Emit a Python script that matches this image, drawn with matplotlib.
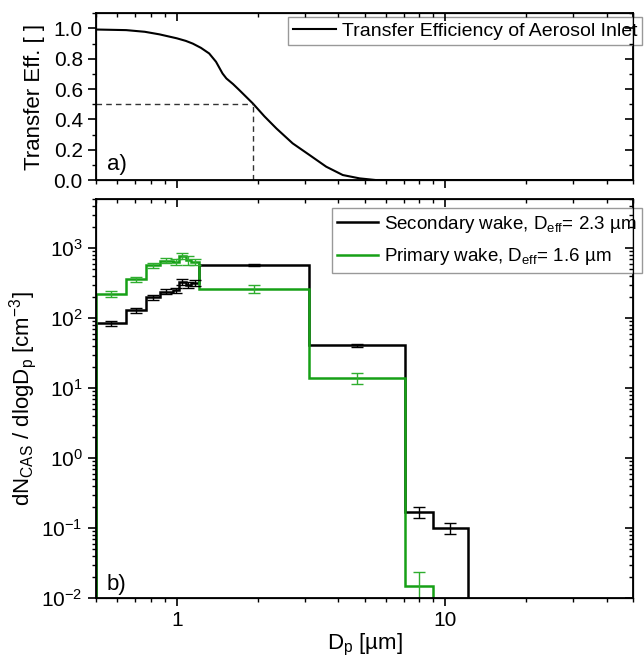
import numpy as np
import matplotlib
matplotlib.use("Agg")
import matplotlib.pyplot as plt
from matplotlib import ticker

plt.rcParams['font.family'] = ['Liberation Sans', 'DejaVu Sans']
plt.rcParams['mathtext.fontset'] = 'custom'
plt.rcParams['mathtext.rm'] = 'Liberation Sans'
plt.rcParams['mathtext.it'] = 'Liberation Sans:italic'
plt.rcParams['mathtext.default'] = 'regular'
plt.rcParams['axes.unicode_minus'] = False
plt.rcParams['font.size'] = 14

# --- panel a: transfer efficiency of the inlet
te_d = [0.5, 0.648, 0.76, 0.862, 1.0, 1.08, 1.147, 1.23, 1.32, 1.40, 1.48, 1.53,
        1.62, 1.71, 1.92, 2.12, 2.35, 2.70, 3.12, 3.6, 4.15, 4.79, 5.5, 50]
te_eff = [0.993, 0.989, 0.978, 0.961, 0.935, 0.918, 0.90, 0.872, 0.835, 0.78,
          0.703, 0.67, 0.633, 0.593, 0.505, 0.42, 0.34, 0.242, 0.165, 0.088,
          0.033, 0.011, 0.0, 0.0]
d50 = 1.93

# --- panel b: size distributions (bin edges in um)
edges_sec = [0.5, 0.648, 0.77, 0.867, 0.964, 1.02, 1.08, 1.13, 1.21, 3.1, 7.1, 9.0, 12.1]
dn_sec = [84, 130, 198, 238, 251, 330, 295, 319, 577, 41, 0.169, 0.10]
err_sec = [8, 11, 17, 20, 22, 35, 30, 32, 15, 2, 0.03, 0.019]

edges_pri = [0.5, 0.648, 0.77, 0.867, 0.964, 1.02, 1.08, 1.13, 1.21, 3.1, 7.1, 9.0]
dn_pri = [220, 357, 571, 659, 637, 776, 670, 640, 260, 14, 0.0147]
err_pri = [20, 30, 45, 55, 60, 70, 90, 70, 35, 2.5, 0.009]

lbl_sec = 'Secondary wake, D$_{eff}$= 2.3 µm'
lbl_pri = 'Primary wake, D$_{eff}$= 1.6 µm'
green = '#16a016'
green_err = '#2fae2f'

fig = plt.figure(figsize=(6.44, 6.68), dpi=100)
ax1 = fig.add_axes([0.149, 0.7305, 0.834, 0.2496])
ax2 = fig.add_axes([0.149, 0.1048, 0.834, 0.597])


def style_axes(ax, logy, xlabels):
    ax.set_xscale('log')
    ax.set_xlim(0.5, 50)
    ax.xaxis.set_major_locator(ticker.FixedLocator([1, 10]))
    ax.xaxis.set_minor_locator(ticker.LogLocator(base=10, subs=np.arange(2, 10), numticks=50))
    if xlabels:
        ax.xaxis.set_major_formatter(ticker.FixedFormatter(['1', '10']))
    else:
        ax.xaxis.set_major_formatter(ticker.NullFormatter())
    ax.xaxis.set_minor_formatter(ticker.NullFormatter())
    ax.tick_params(which='major', direction='out', length=6, width=1.2, labelsize=15)
    ax.tick_params(which='minor', direction='out', length=3, width=1.0)
    for s in ax.spines.values():
        s.set_linewidth(1.3)
    # mirrored inward ticks on top and right
    axt = ax.twiny()
    axt.set_xscale('log')
    axt.set_xlim(ax.get_xlim())
    axt.xaxis.set_major_locator(ticker.FixedLocator([1, 10]))
    axt.xaxis.set_minor_locator(ticker.LogLocator(base=10, subs=np.arange(2, 10), numticks=50))
    axt.xaxis.set_major_formatter(ticker.NullFormatter())
    axt.xaxis.set_minor_formatter(ticker.NullFormatter())
    axt.tick_params(which='both', direction='in', labeltop=False)
    axt.tick_params(which='major', length=6, width=1.2)
    axt.tick_params(which='minor', length=3, width=1.0)
    axr = ax.twinx()
    if logy:
        axr.set_yscale('log')
    axr.set_ylim(ax.get_ylim())
    axr.yaxis.set_major_locator(ax.yaxis.get_major_locator())
    axr.yaxis.set_minor_locator(ax.yaxis.get_minor_locator())
    axr.yaxis.set_major_formatter(ticker.NullFormatter())
    axr.yaxis.set_minor_formatter(ticker.NullFormatter())
    axr.tick_params(which='both', direction='in', labelright=False)
    axr.tick_params(which='major', length=6, width=1.2)
    axr.tick_params(which='minor', length=3, width=1.0)


# panel a
ax1.plot(te_d, te_eff, color='black', lw=1.5, label='Transfer Efficiency of Aerosol Inlet')
ax1.plot([0.5, d50], [0.5, 0.5], ls='--', color='#333333', lw=1.0, dashes=(4, 3))
ax1.plot([d50, d50], [0, 0.5], ls='--', color='#333333', lw=1.0, dashes=(4, 3))
ax1.set_ylim(0, 1.1)
ax1.yaxis.set_major_locator(ticker.MultipleLocator(0.2))
ax1.yaxis.set_minor_locator(ticker.MultipleLocator(0.1))
ax1.yaxis.set_major_formatter(ticker.FormatStrFormatter('%.1f'))
ax1.set_ylabel('Transfer Eff. [ ]', fontsize=16, labelpad=6)
ax1.text(0.02, 0.06, 'a)', transform=ax1.transAxes, fontsize=16)
leg1 = ax1.legend(loc='upper right', bbox_to_anchor=(1.017, 0.975), fontsize=14,
                  frameon=True, fancybox=False, edgecolor='#808080', handlelength=2.2,
                  borderaxespad=0.0, borderpad=0.25, handletextpad=0.3)
leg1.get_frame().set_linewidth(1.0)
style_axes(ax1, False, False)

# panel b
cen_sec = np.sqrt(np.array(edges_sec[:-1]) * np.array(edges_sec[1:]))
cen_pri = np.sqrt(np.array(edges_pri[:-1]) * np.array(edges_pri[1:]))
ax2.set_yscale('log')
ax2.set_ylim(0.01, 5000)
ax2.stairs(dn_sec, edges_sec, baseline=1e-4, color='black', lw=1.8, label=lbl_sec)
ax2.stairs(dn_pri, edges_pri, baseline=1e-4, color=green, lw=1.8, label=lbl_pri)
ax2.errorbar(cen_sec, dn_sec, yerr=err_sec, fmt='none', ecolor='black', elinewidth=1.0,
             capsize=4, capthick=1.0)
ax2.errorbar(cen_pri, dn_pri, yerr=err_pri, fmt='none', ecolor=green_err, elinewidth=1.0,
             capsize=4, capthick=1.0)
ax2.yaxis.set_major_locator(ticker.LogLocator(base=10, numticks=20))
ax2.yaxis.set_minor_locator(ticker.LogLocator(base=10, subs=np.arange(2, 10), numticks=50))
ax2.yaxis.set_minor_formatter(ticker.NullFormatter())
ax2.set_ylabel('dN$_{CAS}$ / dlogD$_p$ [cm$^{-3}$]', fontsize=16, labelpad=2)
ax2.set_xlabel('D$_p$ [µm]', fontsize=16, labelpad=1)
ax2.text(0.02, 0.02, 'b)', transform=ax2.transAxes, fontsize=16)
style_axes(ax2, True, True)
leg2 = ax2.legend(loc='upper right', bbox_to_anchor=(1.017, 0.977), fontsize=13.5,
                  frameon=True, fancybox=False, edgecolor='#808080', handlelength=2.2,
                  borderaxespad=0.0, borderpad=0.3, handletextpad=0.3, labelspacing=0.6)
leg2.get_frame().set_linewidth(1.0)
for h in leg2.legend_handles:
    h.set_linewidth(1.8)

fig.savefig('out.png', dpi=100)
